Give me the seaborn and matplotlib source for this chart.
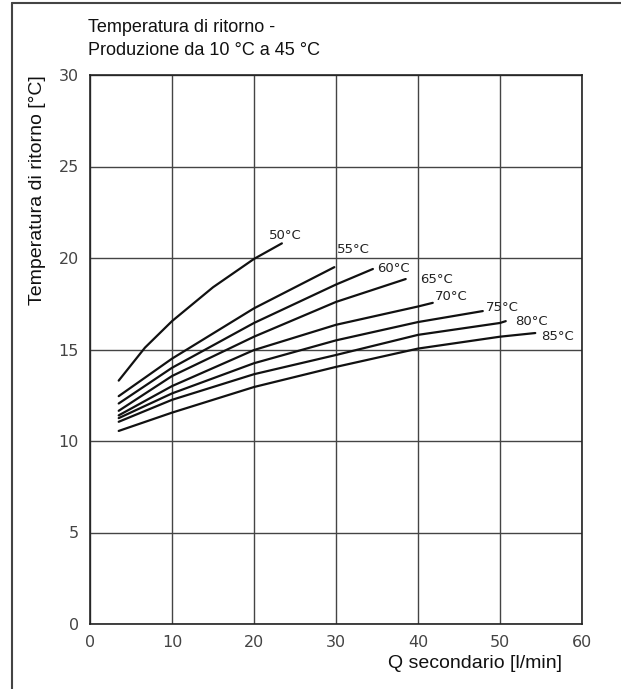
import pandas as pd
import matplotlib.pyplot as plt
import seaborn as sns
from matplotlib.lines import Line2D

# Curve data (Q secondario [l/min] -> return temperature [°C])
q_50 = [3.5, 6.7, 10, 15, 20, 23.4]
t_50 = [13.3, 15.1, 16.55, 18.4, 19.95, 20.8]
q_55 = [3.5, 10, 20, 29.8]
t_55 = [12.45, 14.5, 17.25, 19.5]
q_60 = [3.5, 10, 20, 30, 34.5]
t_60 = [12.05, 14.0, 16.45, 18.55, 19.4]
q_65 = [3.5, 10, 20, 30, 38.5]
t_65 = [11.65, 13.55, 15.7, 17.6, 18.85]
q_70 = [3.5, 10, 20, 30, 40, 41.8]
t_70 = [11.4, 13.0, 14.97, 16.35, 17.35, 17.55]
q_75 = [3.5, 10, 20, 30, 40, 47.9]
t_75 = [11.25, 12.6, 14.25, 15.5, 16.5, 17.1]
q_80 = [3.5, 10, 20, 30, 40, 50, 50.7]
t_80 = [11.05, 12.25, 13.65, 14.7, 15.8, 16.45, 16.55]
q_85 = [3.5, 10, 20, 30, 40, 50, 54.3]
t_85 = [10.55, 11.55, 12.95, 14.05, 15.05, 15.7, 15.9]

curve_labels = ['50°C', '55°C', '60°C', '65°C', '70°C', '75°C', '80°C', '85°C']
curve_q = [q_50, q_55, q_60, q_65, q_70, q_75, q_80, q_85]
curve_t = [t_50, t_55, t_60, t_65, t_70, t_75, t_80, t_85]

x_ticks = [0, 10, 20, 30, 40, 50, 60]
y_ticks = [0, 5, 10, 15, 20, 25, 30]

# label offsets from curve end, in pixels
label_offsets = [(-13, 8), (3, 18), (4, 0), (14, 0), (2, 6), (3, 4), (9, 0), (6, -3)]

rows = []
for lab, qs, ts in zip(curve_labels, curve_q, curve_t):
    for q, t in zip(qs, ts):
        rows.append({'curve': lab, 'q': q, 't': t})
df = pd.DataFrame(rows)

sns.set_style('white')
narrow = ['Liberation Sans Narrow', 'Liberation Sans', 'DejaVu Sans']

fig = plt.figure(figsize=(6.21, 6.89), dpi=100)
ax = fig.add_axes([90 / 621, 1 - 624 / 689, 492 / 621, 549 / 689])

sns.lineplot(data=df, x='q', y='t', hue='curve', units='curve', estimator=None,
             palette=['#111111'] * len(curve_labels), linewidth=1.6,
             legend=False, ax=ax, sort=False)

for lab, qs, ts, off in zip(curve_labels, curve_q, curve_t, label_offsets):
    ax.annotate(lab, (qs[-1], ts[-1]), xytext=off, textcoords='offset pixels',
                ha='left', va='center', fontsize=9.5, color='#222222')

ax.set_xlim(0, 60)
ax.set_ylim(0, 30)
ax.set_xticks(x_ticks)
ax.set_yticks(y_ticks)
ax.grid(True, color='#444444', linewidth=1.0)
ax.tick_params(length=0, labelsize=11.5, labelcolor='#444444', pad=8)
for s in ax.spines.values():
    s.set_color('#222222')
    s.set_linewidth(1.2)

ax.set_xlabel('Q secondario [l/min]', loc='right', fontsize=14, family=narrow, color='#111111')
ax.xaxis.set_label_coords(0.959, -0.056)
ax.set_ylabel('Temperatura di ritorno [°C]', loc='top', fontsize=14, family=narrow, color='#111111')
ax.yaxis.set_label_coords(-0.09, 1.0)

fig.text(88 / 621, 1 - 19 / 689, 'Temperatura di ritorno -\nProduzione da 10 °C a 45 °C',
         ha='left', va='top', fontsize=13, family=narrow, color='#111111', linespacing=1.45)

# outer frame (left and top edges)
fig.add_artist(Line2D([12 / 621, 12 / 621], [0, 1 - 3 / 689], color='#444444', linewidth=1.5,
                      transform=fig.transFigure))
fig.add_artist(Line2D([12 / 621, 1], [1 - 3 / 689, 1 - 3 / 689], color='#444444', linewidth=1.5,
                      transform=fig.transFigure))

fig.savefig('out.png', dpi=100)
